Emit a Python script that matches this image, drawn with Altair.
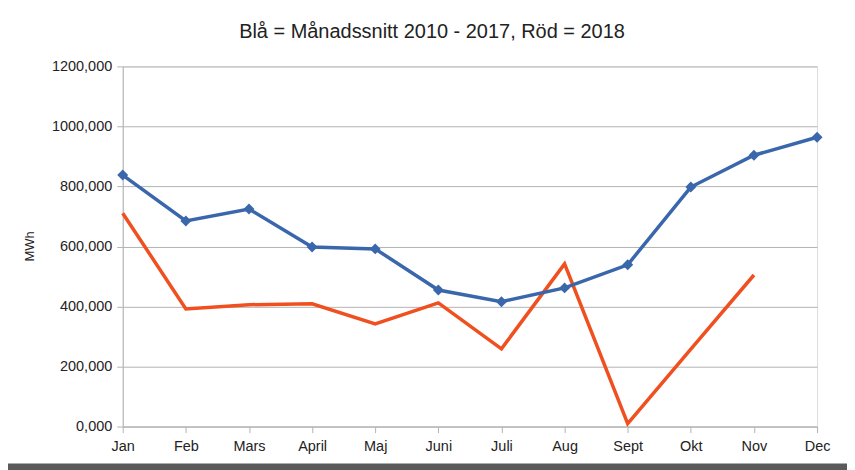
import altair as alt
import pandas as pd

months = ["Jan", "Feb", "Mars", "April", "Maj", "Juni", "Juli", "Aug", "Sept", "Okt", "Nov", "Dec"]
blue_avg = [838, 685, 725, 598, 592, 455, 416, 462, 539, 798, 904, 964]
red_2018 = [711, 392, 406, 409, 342, 412, 259, 542, 10, 258, 505, None]

rows = []
for m, b, r in zip(months, blue_avg, red_2018):
    rows.append({"month": m, "value": b, "series": "Blå"})
    if r is not None:
        rows.append({"month": m, "value": r, "series": "Röd"})
df = pd.DataFrame(rows)

FONT = "Liberation Sans"

x_enc = alt.X("month:O", sort=months, scale=alt.Scale(type="point", padding=0),
              axis=alt.Axis(title=None, labelAngle=0, labelFontSize=14.5, labelFont=FONT,
                            labelColor="#222", domainColor="#b3b3b3", tickColor="#b3b3b3",
                            tickSize=6, labelPadding=7, grid=False))
y_enc = alt.Y("value:Q", scale=alt.Scale(domain=[0, 1200], nice=False),
              axis=alt.Axis(title="MWh", values=[0, 200, 400, 600, 800, 1000, 1200],
                            labelExpr="replace(format(datum.value, '.3f'), '.', ',')",
                            labelFontSize=14.5, labelFont=FONT, labelColor="#222",
                            titleFont=FONT, titleFontSize=13, titleFontWeight="normal",
                            titleColor="#222", titleAngle=-90, titleX=-93, titleY=180,
                            titleAlign="center", titleBaseline="middle",
                            domainColor="#b3b3b3", tickColor="#b3b3b3", tickSize=6,
                            gridColor="#b3b3b3", labelPadding=5))

color = alt.Color("series:N", scale=alt.Scale(domain=["Blå", "Röd"], range=["#3a67ab", "#f0501f"]), legend=None)

blue = alt.Chart(df).transform_filter(alt.datum.series == "Blå").mark_line(
    strokeWidth=3.5, point=alt.OverlayMarkDef(shape="diamond", size=120, filled=True, color="#3a67ab")
).encode(x=x_enc, y=y_enc, color=color)

red = alt.Chart(df).transform_filter(alt.datum.series == "Röd").mark_line(
    strokeWidth=3.5
).encode(x=x_enc, y=y_enc, color=color)

band = alt.Chart(pd.DataFrame({"a": [0]})).mark_rect(color="#5a5a5a").encode(
    x=alt.value(-116), x2=alt.value(745), y=alt.value(398), y2=alt.value(420)
)

chart = alt.layer(red, blue, band).properties(
    width=696, height=361,
    title=alt.TitleParams("Blå = Månadssnitt 2010 - 2017, Röd = 2018", font=FONT, fontSize=20,
                          fontWeight="normal", color="#222", anchor="middle", offset=16, dx=-38),
    autosize=alt.AutoSizeParams(type="none"),
    padding={"left": 115, "top": 58, "right": 30, "bottom": 43},
).configure_view(stroke="#b3b3b3", strokeWidth=1).configure(background="white")

chart.save("out.html", embed_options={"renderer": "svg", "actions": False})
